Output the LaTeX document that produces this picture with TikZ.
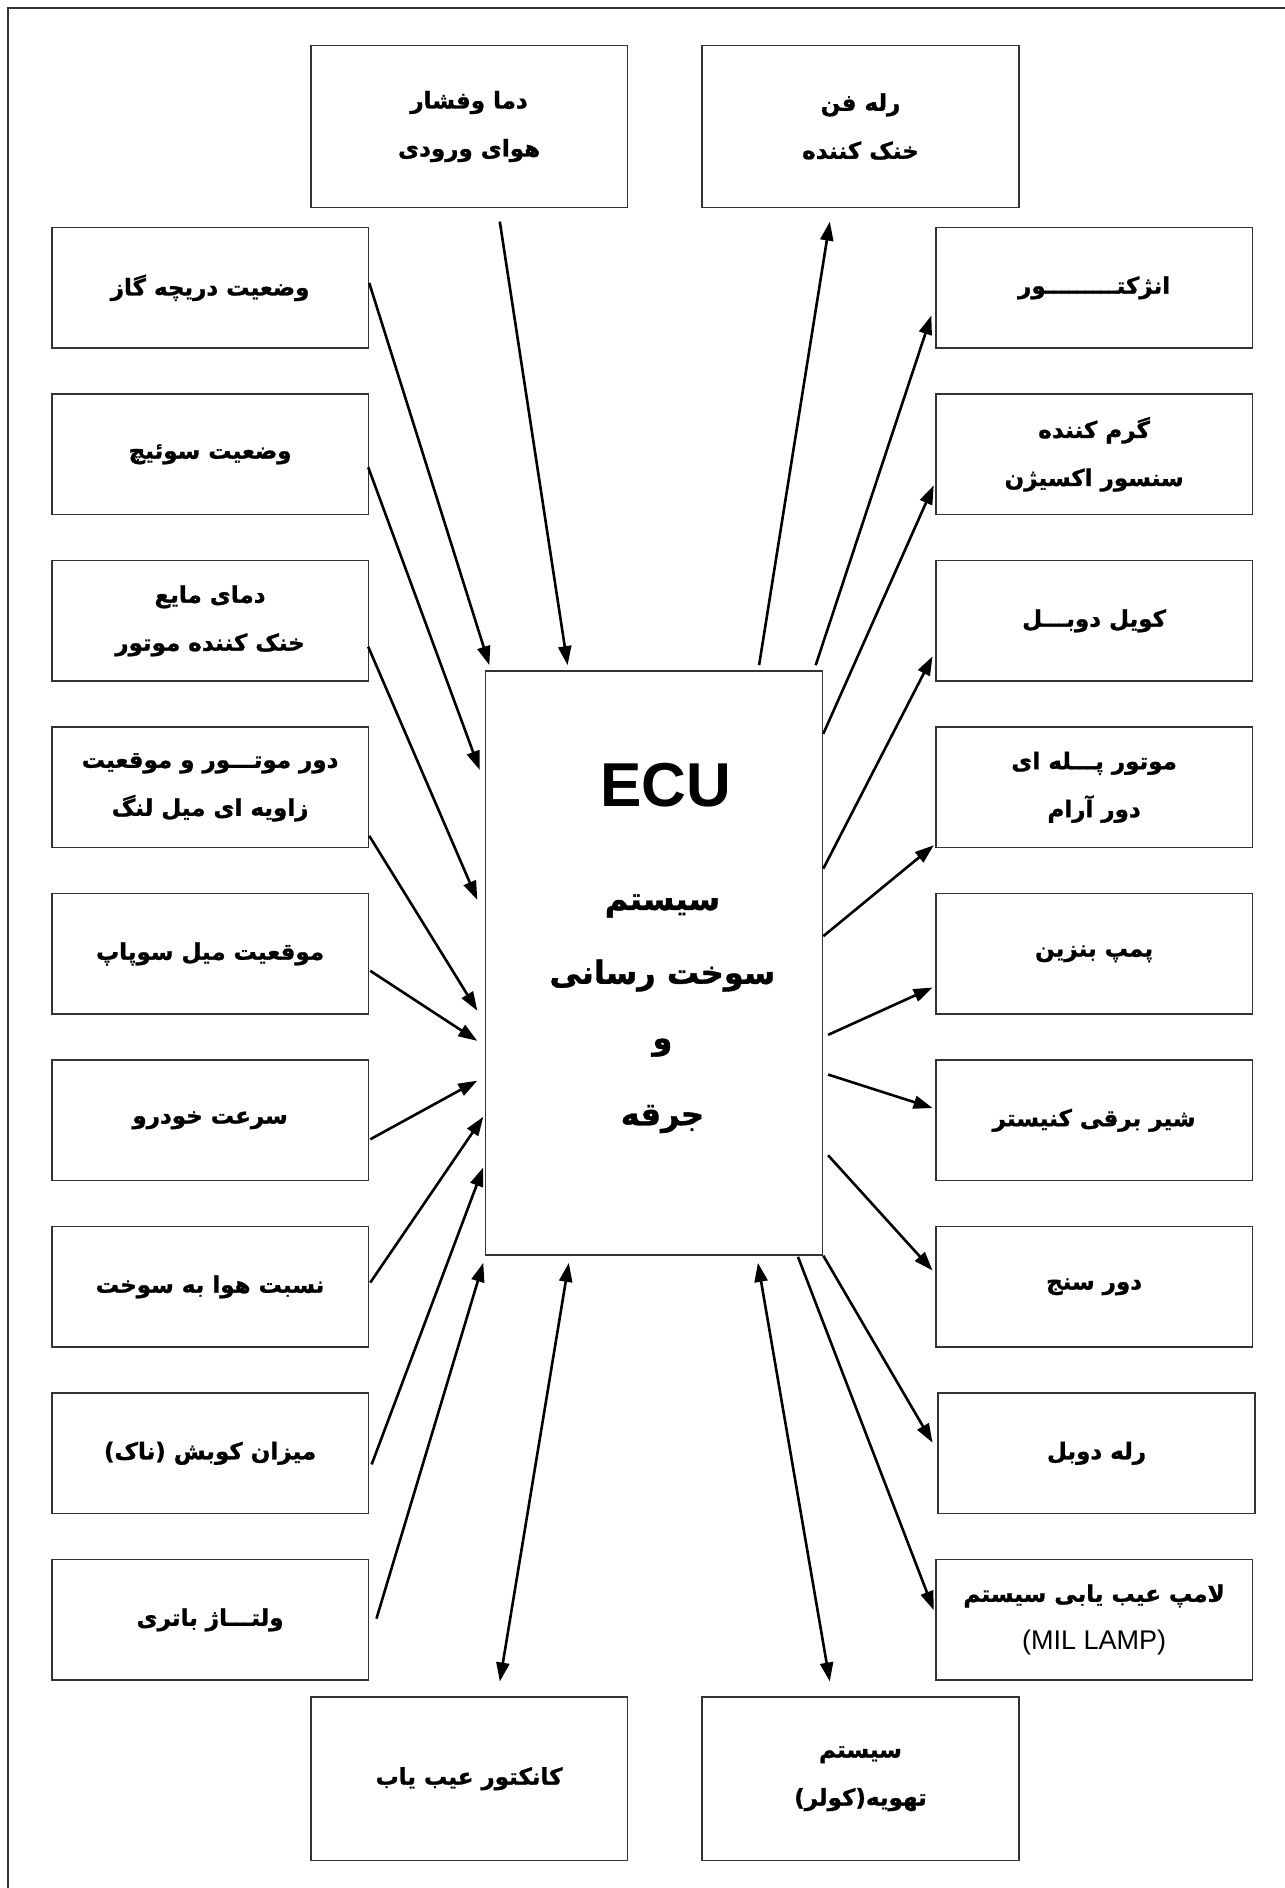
\documentclass[tikz,border=0pt]{standalone}
\usepackage{fontspec}
\setmainfont{Liberation Sans}
\newfontfamily\fafont[Script=Arabic, BoldFeatures={FakeBold=1.2}]{DejaVu Sans}
\usetikzlibrary{arrows.meta,calc}
\TeXXeTstate=1
\newcommand\fatxt[1]{\beginR#1\endR}
\begin{document}
\begin{tikzpicture}[x=1pt,y=-1pt,
  box/.style={draw=black!80, line width=1.6pt, minimum width=316.7pt, minimum height=120.4pt,
    inner sep=0pt, align=center, font=\fafont\bfseries\fontsize{23}{48}\selectfont},
  tallbox/.style={box, minimum height=162pt},
  ecubox/.style={draw=black!80, line width=1.6pt, minimum width=337.2pt, minimum height=584.1pt, inner sep=0pt},
  ecutitle/.style={font=\bfseries\fontsize{62}{62}\selectfont, inner sep=0pt},
  eculine/.style={font=\fafont\bfseries\fontsize{32}{40}\selectfont, inner sep=0pt},
  arr/.style={line width=2.6pt, -{Triangle[length=19pt,width=13pt]}},
  darr/.style={line width=2.6pt, {Triangle[length=19pt,width=13pt]}-{Triangle[length=19pt,width=13pt]}}
]
\useasboundingbox (0,0) rectangle (1285,1888);
\fill[white] (0,0) rectangle (1285,1888);
% frame
\draw[line width=1.6pt, black!80] (8,1888) -- (8,8) -- (1285,8);

% top boxes
\node[tallbox] (TL) at (469.1,126.5) {\fatxt{دما وفشار}\\\fatxt{هوای ورودی}};
\node[tallbox] (TR) at (860.5,126.5) {\fatxt{رله فن}\\\fatxt{خنک کننده}};
% bottom boxes
\node[tallbox, minimum height=163.8pt] (BL) at (469.1,1778.7) {\fatxt{کانکتور عیب یاب}};
\node[tallbox, minimum height=163.8pt] (BR) at (860.5,1778.7) {\fatxt{سیستم}\\\fatxt{تهویه(کولر)}};

% left column
\node[box] (L1) at (210.1,287.8) {\fatxt{وضعیت دریچه گاز}};
\node[box] (L2) at (210.1,454.3) {\fatxt{وضعیت سوئیچ}};
\node[box] (L3) at (210.1,620.8) {\fatxt{دمای مایع}\\\fatxt{خنک کننده موتور}};
\node[box] (L4) at (210.1,787.3) {\fatxt{دور موتـــور و موقعیت}\\\fatxt{زاویه ای میل لنگ}};
\node[box] (L5) at (210.1,953.8) {\fatxt{موقعیت میل سوپاپ}};
\node[box] (L6) at (210.1,1120.3) {\fatxt{سرعت خودرو}};
\node[box] (L7) at (210.1,1286.8) {\fatxt{نسبت هوا به سوخت}};
\node[box] (L8) at (210.1,1453.3) {\fatxt{میزان کوبش (ناک)}};
\node[box] (L9) at (210.1,1619.8) {\fatxt{ولتـــاژ باتری}};

% right column
\node[box] (R1) at (1094.1,287.8) {\fatxt{انژکتـــــــــور}};
\node[box] (R2) at (1094.1,454.3) {\fatxt{گرم کننده}\\\fatxt{سنسور اکسیژن}};
\node[box] (R3) at (1094.1,620.8) {\fatxt{کویل دوبـــل}};
\node[box] (R4) at (1094.1,787.3) {\fatxt{موتور پـــله ای}\\\fatxt{دور آرام}};
\node[box] (R5) at (1094.1,953.8) {\fatxt{پمپ بنزین}};
\node[box] (R6) at (1094.1,1120.3) {\fatxt{شیر برقی کنیستر}};
\node[box] (R7) at (1094.1,1286.8) {\fatxt{دور سنج}};
\node[box] (R8) at (1096.5,1453.3) {\fatxt{رله دوبل}};
\node[box] (R9) at (1094.1,1619.8) {\fatxt{لامپ عیب یابی سیستم}\\{\normalfont\fontsize{27}{48}\selectfont(MIL LAMP)}};

% ECU
\node[ecubox] (ecu) at (653.9,962.8) {};
\node[ecutitle] (ecuT) at (666,785.2) {ECU};
\node[eculine] (ecuA) at (662.4,906) {\fatxt{سیستم}};
\node[eculine] (ecuB) at (662.4,975.5) {\fatxt{سوخت رسانی}};
\node[eculine] (ecuC) at (662.4,1047.7) {\fatxt{و}};
\node[eculine] (ecuD) at (662.4,1119) {\fatxt{جرقه}};

% inputs
\draw[arr] ($(TL.south)+(30.7,13.3)$) -- ($(ecu.north west)+(83.1,-4.8)$);
\draw[arr] ($(L1.east)+(0,-4.8)$) -- ($(ecu.north west)+(4.9,-4.8)$);
\draw[arr] ($(L2.east)+(-1,13)$) -- ($(ecu.north west)+(-4.8,100)$);
\draw[arr] ($(L3.east)+(-1,26)$) -- ($(ecu.north west)+(-7.2,230)$);
\draw[arr] ($(L4.east)+(0,48.5)$) -- ($(ecu.north west)+(-7.2,340.8)$);
\draw[arr] ($(L5.east)+(1,17)$) -- ($(ecu.north west)+(-7.2,370.9)$);
\draw[arr] ($(L6.east)+(1,19)$) -- ($(ecu.north west)+(-7.2,410.7)$);
\draw[arr] ($(L7.east)+(1,-4.2)$) -- ($(ecu.north west)+(-1.2,446.8)$);
\draw[arr] ($(L8.east)+(2.4,11.1)$) -- ($(ecu.north west)+(-1.2,497.4)$);
\draw[arr] ($(L9.east)+(7.2,-1.2)$) -- ($(ecu.south west)+(-1.2,7.2)$);
\draw[darr] ($(BL.north)+(30.7,-14.5)$) -- ($(ecu.south west)+(84.3,7.2)$);

% outputs
\draw[arr] ($(ecu.north west)+(274.6,-4.8)$) -- ($(TR.south)+(-30.7,13.3)$);
\draw[arr] ($(ecu.north west)+(331.2,-4.8)$) -- ($(R1.west)+(-3.6,27.7)$);
\draw[arr] ($(ecu.north east)+(0,63.8)$) -- ($(R2.west)+(-1.2,31)$);
\draw[arr] ($(ecu.north east)+(0,198.7)$) -- ($(R3.west)+(-2.4,35.5)$);
\draw[arr] ($(ecu.north east)+(0,266.2)$) -- ($(R4.west)+(-1.2,58)$);
\draw[arr] ($(ecu.north east)+(4.8,364.9)$) -- ($(R5.west)+(-2.4,33.7)$);
\draw[arr] ($(ecu.north east)+(4.8,404.6)$) -- ($(R6.west)+(-2.4,-12.3)$);
\draw[arr] ($(ecu.north east)+(4.8,485.3)$) -- ($(R7.west)+(-2.4,-16.3)$);
\draw[arr] (ecu.south east) -- ($(R8.west)+(-4.8,-10.6)$);
\draw[arr] ($(ecu.south east)+(-25.3,1.2)$) -- ($(R9.west)+(-1.2,-9.7)$);
\draw[darr] ($(ecu.south west)+(273.4,7.2)$) -- ($(BR.north)+(-30.7,-14.5)$);
\end{tikzpicture}
\end{document}
